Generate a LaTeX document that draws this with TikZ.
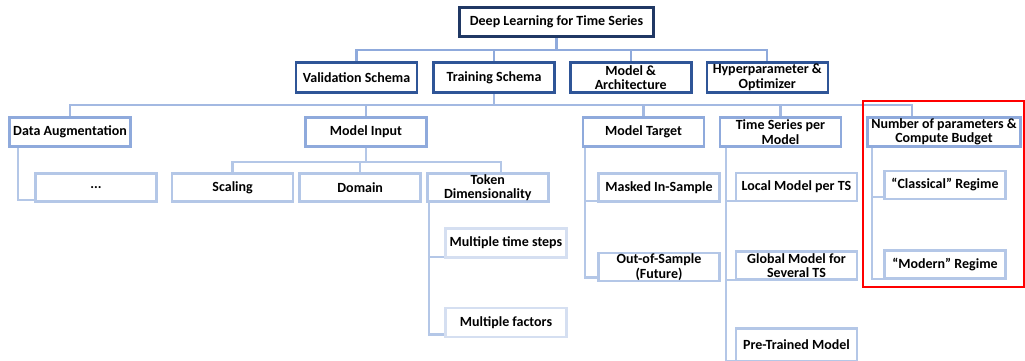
\documentclass[tikz,border=0pt]{standalone}
\usepackage{fontspec}
\setmainfont{Carlito}
\usepackage{xcolor}
\definecolor{colorRoot}{HTML}{203864}
\definecolor{colorOne}{HTML}{2F5597}
\definecolor{colorTwo}{HTML}{8FAADC}
\definecolor{colorThree}{HTML}{B4C7E7}
\definecolor{colorFour}{HTML}{D5DFF1}
\definecolor{colorBusA}{HTML}{8FAADC}
\definecolor{colorBusB}{HTML}{A3B9E2}
\definecolor{colorBusC}{HTML}{B4C7E7}
\usetikzlibrary{positioning, backgrounds}
\tikzset{
  box/.style={draw, fill=white, line width=2.6pt, inner sep=0pt, align=center,
    font=\fontsize{14}{14.5}\selectfont\bfseries, minimum width=121pt, minimum height=29pt},
  boxRoot/.style={box, draw=colorRoot, line width=3pt, minimum width=194pt},
  boxOne/.style={box, draw=colorOne, minimum height=30pt},
  boxTwo/.style={box, draw=colorTwo},
  boxThree/.style={box, draw=colorThree, minimum height=28pt},
  boxFour/.style={box, draw=colorFour, minimum height=29pt},
  conn/.style={line width=2.3pt},
}

\begin{document}
\begin{tikzpicture}[x=1pt, y=-1pt]
\useasboundingbox (0,0) rectangle (1025,360);
% top
\node[boxRoot] (root) at (556.5,22) {Deep Learning for Time Series};
\node[boxOne] (val) at (356.5,77.5) {Validation Schema};
\node[boxOne, right=14pt of val] (trn) {Training Schema};
\node[boxOne, right=13pt of trn] (mda) {Model \&\\Architecture};
\node[boxOne, right=13pt of mda] (hyp) {Hyperparameter \&\\Optimizer};
% training schema
\node[boxTwo] (da) at (70,132) {Data Augmentation};
\node[boxTwo] (mi) at (366,132) {Model Input};
\node[boxTwo] (mt) at (643.5,132) {Model Target};
\node[boxTwo] (tsm) at (780.5,132) {Time Series per\\Model};
\node[boxTwo, minimum width=153pt] (np) at (944,132) {Number of parameters \&\\Compute Budget};
% model input
\node[boxThree] (dots) at (96,187.5) {...};
\node[boxThree, right=13pt of dots] (sc) {Scaling};
\node[boxThree, right=4pt of sc] (dom) {Domain};
\node[boxThree, right=4pt of dom] (tok) {Token\\Dimensionality};
\node[boxFour] (mts) at (506,243) {Multiple time steps};
\node[boxFour, below=48pt of mts] (mf) {Multiple factors};
% model target
\node[boxThree] (mis) at (659,187.5) {Masked In-Sample};
\node[boxThree, below=49pt of mis] (oos) {Out-of-Sample\\(Future)};
% time series per model
\node[boxThree] (lm) at (796.5,187) {Local Model per TS};
\node[boxThree, below=48pt of lm] (gm) {Global Model for\\Several TS};
\node[boxThree, below=46pt of gm, minimum height=33pt] (pt) {Pre-Trained Model};
% parameters
\node[boxThree] (cr) at (945,185) {“Classical” Regime};
\node[boxThree, below=49pt of cr] (mr) {“Modern” Regime};
\draw[red, line width=1.3pt] (863,101) rectangle (1024,287);

\begin{scope}[on background layer]
\draw[conn, colorBusA] (root.south) -- ++(0,12) -| (val.north);
\draw[conn, colorBusA] (root.south) -- ++(0,12) -| (trn.north);
\draw[conn, colorBusA] (root.south) -- ++(0,12) -| (mda.north);
\draw[conn, colorBusA] (root.south) -- ++(0,12) -| (hyp.north);
\draw[conn, colorBusB] (trn.south) -- ++(0,11) -| (da.north);
\draw[conn, colorBusB] (trn.south) -- ++(0,11) -| (mi.north);
\draw[conn, colorBusB] (trn.south) -- ++(0,11) -| (mt.north);
\draw[conn, colorBusB] (trn.south) -- ++(0,11) -| (tsm.north);
\draw[conn, colorBusB] (trn.south) -- ++(0,11) -| ([xshift=-32pt]np.north);
\draw[conn, colorBusC] ([xshift=10pt]da.south west) |- ([yshift=3pt]dots.south west);
\draw[conn, colorBusC] (mi.south) -- ++(0,14) -| (sc.north);
\draw[conn, colorBusC] (mi.south) -- ++(0,14) -| (dom.north);
\draw[conn, colorBusC] (mi.south) -- ++(0,14) -| ([xshift=13pt]tok.north);
\draw[conn, colorBusC] ([xshift=3pt]tok.south west) |- ([yshift=2pt]mts.south west);
\draw[conn, colorBusC] ([xshift=3pt]tok.south west) |- ([yshift=4pt]mf.south west);
\draw[conn, colorBusC] ([xshift=3pt]mt.south west) |- ([yshift=2pt]mis.south west);
\draw[conn, colorBusC] ([xshift=3pt]mt.south west) |- ([yshift=5pt]oos.south west);
\draw[conn, colorBusC] ([xshift=7pt]tsm.south west) |- ([yshift=1pt]lm.south west);
\draw[conn, colorBusC] ([xshift=7pt]tsm.south west) |- ([yshift=1pt]gm.south west);
\draw[conn, colorBusC] ([xshift=7pt]tsm.south west) |- ([yshift=1pt]pt.south west);
\draw[conn, colorBusC] ([xshift=6pt]np.south west) |- ([yshift=3pt]cr.south west);
\draw[conn, colorBusC] ([xshift=6pt]np.south west) |- ([yshift=1pt]mr.south west);
\end{scope}
\end{tikzpicture}
\end{document}
